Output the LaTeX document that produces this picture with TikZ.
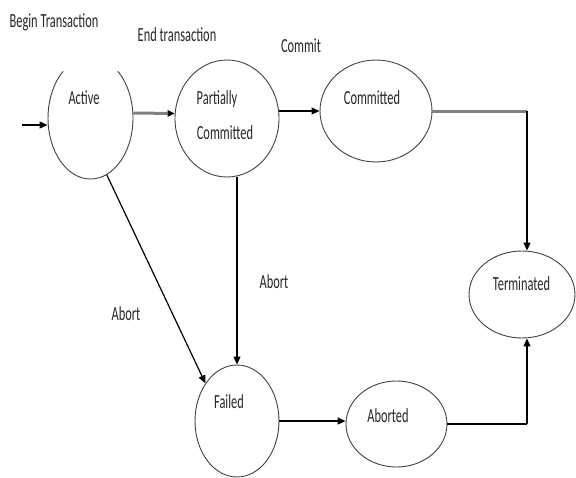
\documentclass[tikz,border=0pt]{standalone}
\usepackage{fontspec}
\setmainfont[FakeStretch=0.62]{Carlito}
\usetikzlibrary{shapes.geometric,arrows.meta,calc}
\begin{document}
\begin{tikzpicture}[x=1pt,y=-1pt,
  state/.style={ellipse,draw=black!75,line width=0.9pt,inner sep=0pt},
  txt/.style={inner sep=0pt,text=black!85,font=\fontsize{20}{22}\selectfont},
  arr/.style={line width=1.2pt,-{Triangle[length=8pt,width=7pt]}},
  thin/.style={line width=1.2pt},
  grayline/.style={line width=3pt,draw=black!50},
  grayarr/.style={line width=3pt,draw=black!50,-{Triangle[length=7pt,width=7pt,color=black,line width=0pt]}}
]
\useasboundingbox (0,0) rectangle (576,477);
% states
\node[state,draw=none,minimum width=85pt,minimum height=122pt] (act) at (90.5,118) {};
\draw[black!75,line width=0.9pt] (act.center) ++(130:42.5pt and 61pt) arc[start angle=130,end angle=410,x radius=42.5pt,y radius=61pt];
\node[state,minimum width=104pt,minimum height=117pt] (pc) at (227,118.5) {};
\node[state,minimum width=112pt,minimum height=102pt] (com) at (376,111) {};
\node[state,minimum width=106pt,minimum height=87pt] (term) at (522,294.5) {};
\node[state,minimum width=101pt,minimum height=86pt] (ab) at (396.5,424) {};
\node[state,minimum width=84pt,minimum height=112pt] (fail) at (237,421) {};
% state texts
\node[txt] (tact) at (84,98) {Active};
\node[txt] (tpc1) at (217,99) {Partially};
\node[txt] (tpc2) at (225,133) {Committed};
\node[txt] (tcom) at (372,97.5) {Committed};
\node[txt] (tterm) at (521.5,283.5) {Terminated};
\node[txt] (tab) at (388,415.5) {Aborted};
\node[txt] (tfail) at (229,402) {Failed};
% edge labels
\node[txt] (lbegin) at (54,22.5) {Begin Transaction};
\node[txt] (lend) at (177,35) {End transaction};
\node[txt] (lcommit) at (301,46) {Commit};
\node[txt] (labort1) at (274,282) {Abort};
\node[txt] (labort2) at (126,314) {Abort};
% helper coordinates
\coordinate (start) at (22,125);
\coordinate (c1) at (527,111);
\coordinate (c2) at (527,424);
% connectors
\draw[arr] (start) -- (start -| act.west);
\draw[grayarr] ([yshift=5pt]act.east) -- ([yshift=5pt]pc.west);
\draw[arr] (com.west -| pc.east) -- (com.west);
\draw[grayline] (com.east) -- (c1);
\draw[arr] (c1) -- (c1 |- term.north);
\draw[arr] (act.-74) -- (fail.130);
\draw[arr] (fail.north |- pc.south) -- (fail.north);
\draw[arr] (fail.east) -- (fail.east -| ab.west);
\draw[thin] (ab.east) -- (c2);
\draw[arr] (c2) -- (c2 |- term.south);
\end{tikzpicture}
\end{document}
